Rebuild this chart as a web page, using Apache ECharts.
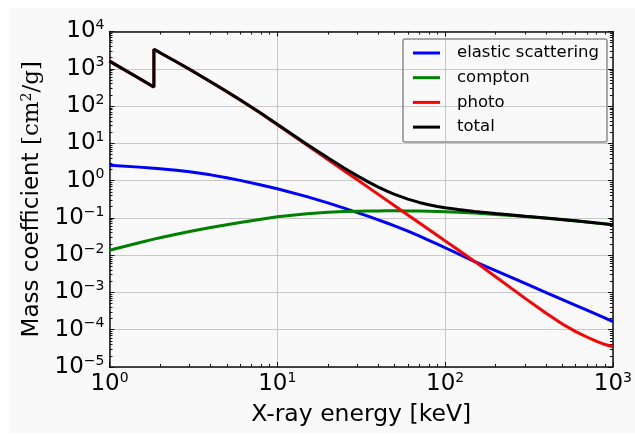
<!DOCTYPE html>
<html><head><meta charset="utf-8">
<script src="https://cdn.jsdelivr.net/npm/echarts@6/dist/echarts.min.js"></script>
<style>
html,body{margin:0;padding:0;background:#fff;}
#bg{position:absolute;left:9px;top:8px;width:626px;height:425px;background:#f9f9f9;}
#c{position:absolute;left:0;top:0;width:635px;height:435px;}
</style>
</head><body><div id="bg"></div><div id="c"></div>
<script>
// X-ray energy [keV]
const energy  = [1, 1.5, 1.839, 1.839, 2, 2.5, 3, 4, 5, 6, 8, 10, 15, 20, 25, 30, 35, 40, 45, 50, 60, 70, 80, 90, 100, 120, 150, 200, 250, 300, 400, 500, 600, 700, 800, 900, 1000];
// mass coefficients [cm^2/g]
const elastic = [2.6, 2.30, 2.14, 2.14, 2.07, 1.886, 1.72, 1.427, 1.194, 1.013, 0.766, 0.606, 0.3725, 0.2526, 0.1828, 0.139, 0.1095, 0.0884, 0.0728, 0.0609, 0.0439, 0.0327, 0.0251, 0.0197, 0.0158, 0.0108, 0.00675, 0.00385, 0.00249, 0.00174, 0.000995, 0.000644, 0.000452, 0.000335, 0.000258, 0.000205, 0.000166];
const compton = [0.0135, 0.0215, 0.0269, 0.0269, 0.0294, 0.0366, 0.0433, 0.0551, 0.0656, 0.0752, 0.0925, 0.1072, 0.1297, 0.1414, 0.1478, 0.1514, 0.1533, 0.1541, 0.1545, 0.1546, 0.1542, 0.1530, 0.1513, 0.1493, 0.1470, 0.1422, 0.1348, 0.1242, 0.1155, 0.1082, 0.0975, 0.0895, 0.0830, 0.0775, 0.0727, 0.0688, 0.0652];
const photo   = [1600, 553, 322, 3330, 2700, 1540, 966, 449, 244, 146, 63.2, 31.6, 9.0, 3.69, 1.85, 1.05, 0.648, 0.427, 0.295, 0.212, 0.120, 0.074, 0.0488, 0.0337, 0.0242, 0.0137, 0.0068, 0.002645, 0.001267, 0.000694, 0.000276, 0.000143, 0.000089, 0.0000638, 0.0000486, 0.0000400, 0.0000350];
const total   = [1602.6, 555.3, 324.2, 3332.2, 2702.1, 1541.9, 967.8, 450.5, 245.3, 147.1, 64.06, 32.31, 9.50, 4.084, 2.181, 1.340, 0.911, 0.670, 0.522, 0.428, 0.318, 0.260, 0.225, 0.203, 0.187, 0.167, 0.148, 0.1307, 0.1193, 0.1106, 0.0988, 0.0903, 0.0835, 0.0779, 0.0730, 0.0691, 0.0654];

const seriesNames  = ['elastic scattering', 'compton', 'photo', 'total'];
const seriesColors = ['#0000ff', '#008000', '#ff0000', '#000000'];

const xTickExp = ['0', '1', '2', '3'];               // 10^0 .. 10^3
const yTickExp = ['\u22125', '\u22124', '\u22123', '\u22122', '\u22121', '0', '1', '2', '3', '4']; // 10^-5 .. 10^4
const xMinExp = 0, yMinExp = -5;
const xMinorTicks = [2,3,4,5,6,7,8,9, 20,30,40,50,60,70,80,90, 200,300,400,500,600,700,800,900];
const yMinorTicks = [2e-5,3e-5,4e-5,5e-5,6e-5,7e-5,8e-5,9e-5,
  2e-4,3e-4,4e-4,5e-4,6e-4,7e-4,8e-4,9e-4,
  2e-3,3e-3,4e-3,5e-3,6e-3,7e-3,8e-3,9e-3,
  0.02,0.03,0.04,0.05,0.06,0.07,0.08,0.09,
  0.2,0.3,0.4,0.5,0.6,0.7,0.8,0.9,
  2,3,4,5,6,7,8,9, 20,30,40,50,60,70,80,90,
  200,300,400,500,600,700,800,900, 2000,3000,4000,5000,6000,7000,8000,9000];

const values = [elastic, compton, photo, total];

const FONT = 'DejaVu Sans';
const frameColor = '#111';
const richTick = {
  b: {fontFamily: FONT, fontSize: 23, color: '#000', lineHeight: 26},
  s: {fontFamily: FONT, fontSize: 14, color: '#000', verticalAlign: 'top', lineHeight: 14}
};
function mkFmt(arr, minExp) {
  return function (v) {
    const i = Math.round(Math.log10(v)) - minExp;
    return '{b|10}{s|' + arr[i] + '}';
  };
}

function baseAxis(min, max, pos) {
  return {
    type: 'log', logBase: 10, min: min, max: max, position: pos,
    axisLine: {show: false, onZero: false},
    axisLabel: {show: false},
    splitLine: {show: false},
    axisTick: {show: false}
  };
}

const xMain = Object.assign(baseAxis(1, 1000, 'bottom'), {
  axisLine: {show: true, onZero: false, lineStyle: {color: frameColor, width: 1.5}},
  axisTick: {show: true, inside: true, length: 5, lineStyle: {color: frameColor, width: 1}},
  axisLabel: {show: true, margin: 4, formatter: mkFmt(xTickExp, xMinExp), rich: richTick},
  splitLine: {show: true, lineStyle: {color: '#c8c8c8', width: 1}},
  name: 'X-ray energy [keV]', nameLocation: 'middle', nameGap: 36,
  nameTextStyle: {fontFamily: FONT, fontSize: 23.5, color: '#000'}
});
const xMinor = Object.assign(baseAxis(1, 1000, 'bottom'), {
  axisTick: {show: true, inside: true, length: 3, customValues: xMinorTicks, lineStyle: {color: frameColor, width: 1}}
});
const xTop = Object.assign(baseAxis(1, 1000, 'top'), {
  axisLine: {show: true, onZero: false, lineStyle: {color: frameColor, width: 1.5}},
  axisTick: {show: true, inside: true, length: 5, lineStyle: {color: frameColor, width: 1}}
});
const xTopMinor = Object.assign(baseAxis(1, 1000, 'top'), {
  axisTick: {show: true, inside: true, length: 3, customValues: xMinorTicks, lineStyle: {color: frameColor, width: 1}}
});

const yMain = Object.assign(baseAxis(1e-5, 1e4, 'left'), {
  axisLine: {show: true, onZero: false, lineStyle: {color: frameColor, width: 1.5}},
  axisTick: {show: true, inside: true, length: 5, lineStyle: {color: frameColor, width: 1}},
  axisLabel: {show: true, margin: 5, formatter: mkFmt(yTickExp, yMinExp), rich: richTick},
  splitLine: {show: true, lineStyle: {color: '#c8c8c8', width: 1}},
  name: 'Mass coefficient {m|[cm}{s|2}{m|/g]}', nameLocation: 'middle', nameGap: 66, nameRotate: 90,
  nameTextStyle: {fontFamily: FONT, fontSize: 23, color: '#000',
    rich: {m: {fontFamily: 'DejaVu Serif', fontSize: 23, color: '#000'},
           s: {fontFamily: 'DejaVu Serif', fontSize: 14, color: '#000', verticalAlign: 'top'}}}
});
const yMinor = Object.assign(baseAxis(1e-5, 1e4, 'left'), {
  axisTick: {show: true, inside: true, length: 3, customValues: yMinorTicks, lineStyle: {color: frameColor, width: 1}}
});
const yRight = Object.assign(baseAxis(1e-5, 1e4, 'right'), {
  axisLine: {show: true, onZero: false, lineStyle: {color: frameColor, width: 1.5}},
  axisTick: {show: true, inside: true, length: 5, lineStyle: {color: frameColor, width: 1}}
});
const yRightMinor = Object.assign(baseAxis(1e-5, 1e4, 'right'), {
  axisTick: {show: true, inside: true, length: 3, customValues: yMinorTicks, lineStyle: {color: frameColor, width: 1}}
});

const series = seriesNames.map(function (name, k) {
  return {
    name: name, type: 'line', xAxisIndex: 0, yAxisIndex: 0,
    symbol: 'none', showSymbol: false, smooth: false,
    color: seriesColors[k],
    lineStyle: {color: seriesColors[k], width: 3},
    data: energy.map(function (e, i) { return [e, values[k][i]]; }),
    z: 2 + k
  };
});

const chart = echarts.init(document.getElementById('c'), null, {renderer: 'canvas'});
chart.setOption({
  animation: false,
  backgroundColor: 'transparent',
  grid: {left: 109.5, top: 31.5, width: 504.5, height: 335.5, containLabel: false},
  xAxis: [xMain, xMinor, xTop, xTopMinor],
  yAxis: [yMain, yMinor, yRight, yRightMinor],
  legend: {
    orient: 'vertical', left: 403, top: 39,
    padding: [4, 8, 5, 10], itemGap: 4.7, itemWidth: 27, itemHeight: 3,
    icon: 'rect',
    borderColor: '#8c8c8c', borderWidth: 1.5, borderRadius: 2,
    backgroundColor: 'rgba(255,255,255,0)',
    textStyle: {fontFamily: FONT, fontSize: 16.5, color: '#000', lineHeight: 20, padding: [0, 0, 0, 12]},
    data: seriesNames
  },
  series: series
});
</script>
</body></html>
